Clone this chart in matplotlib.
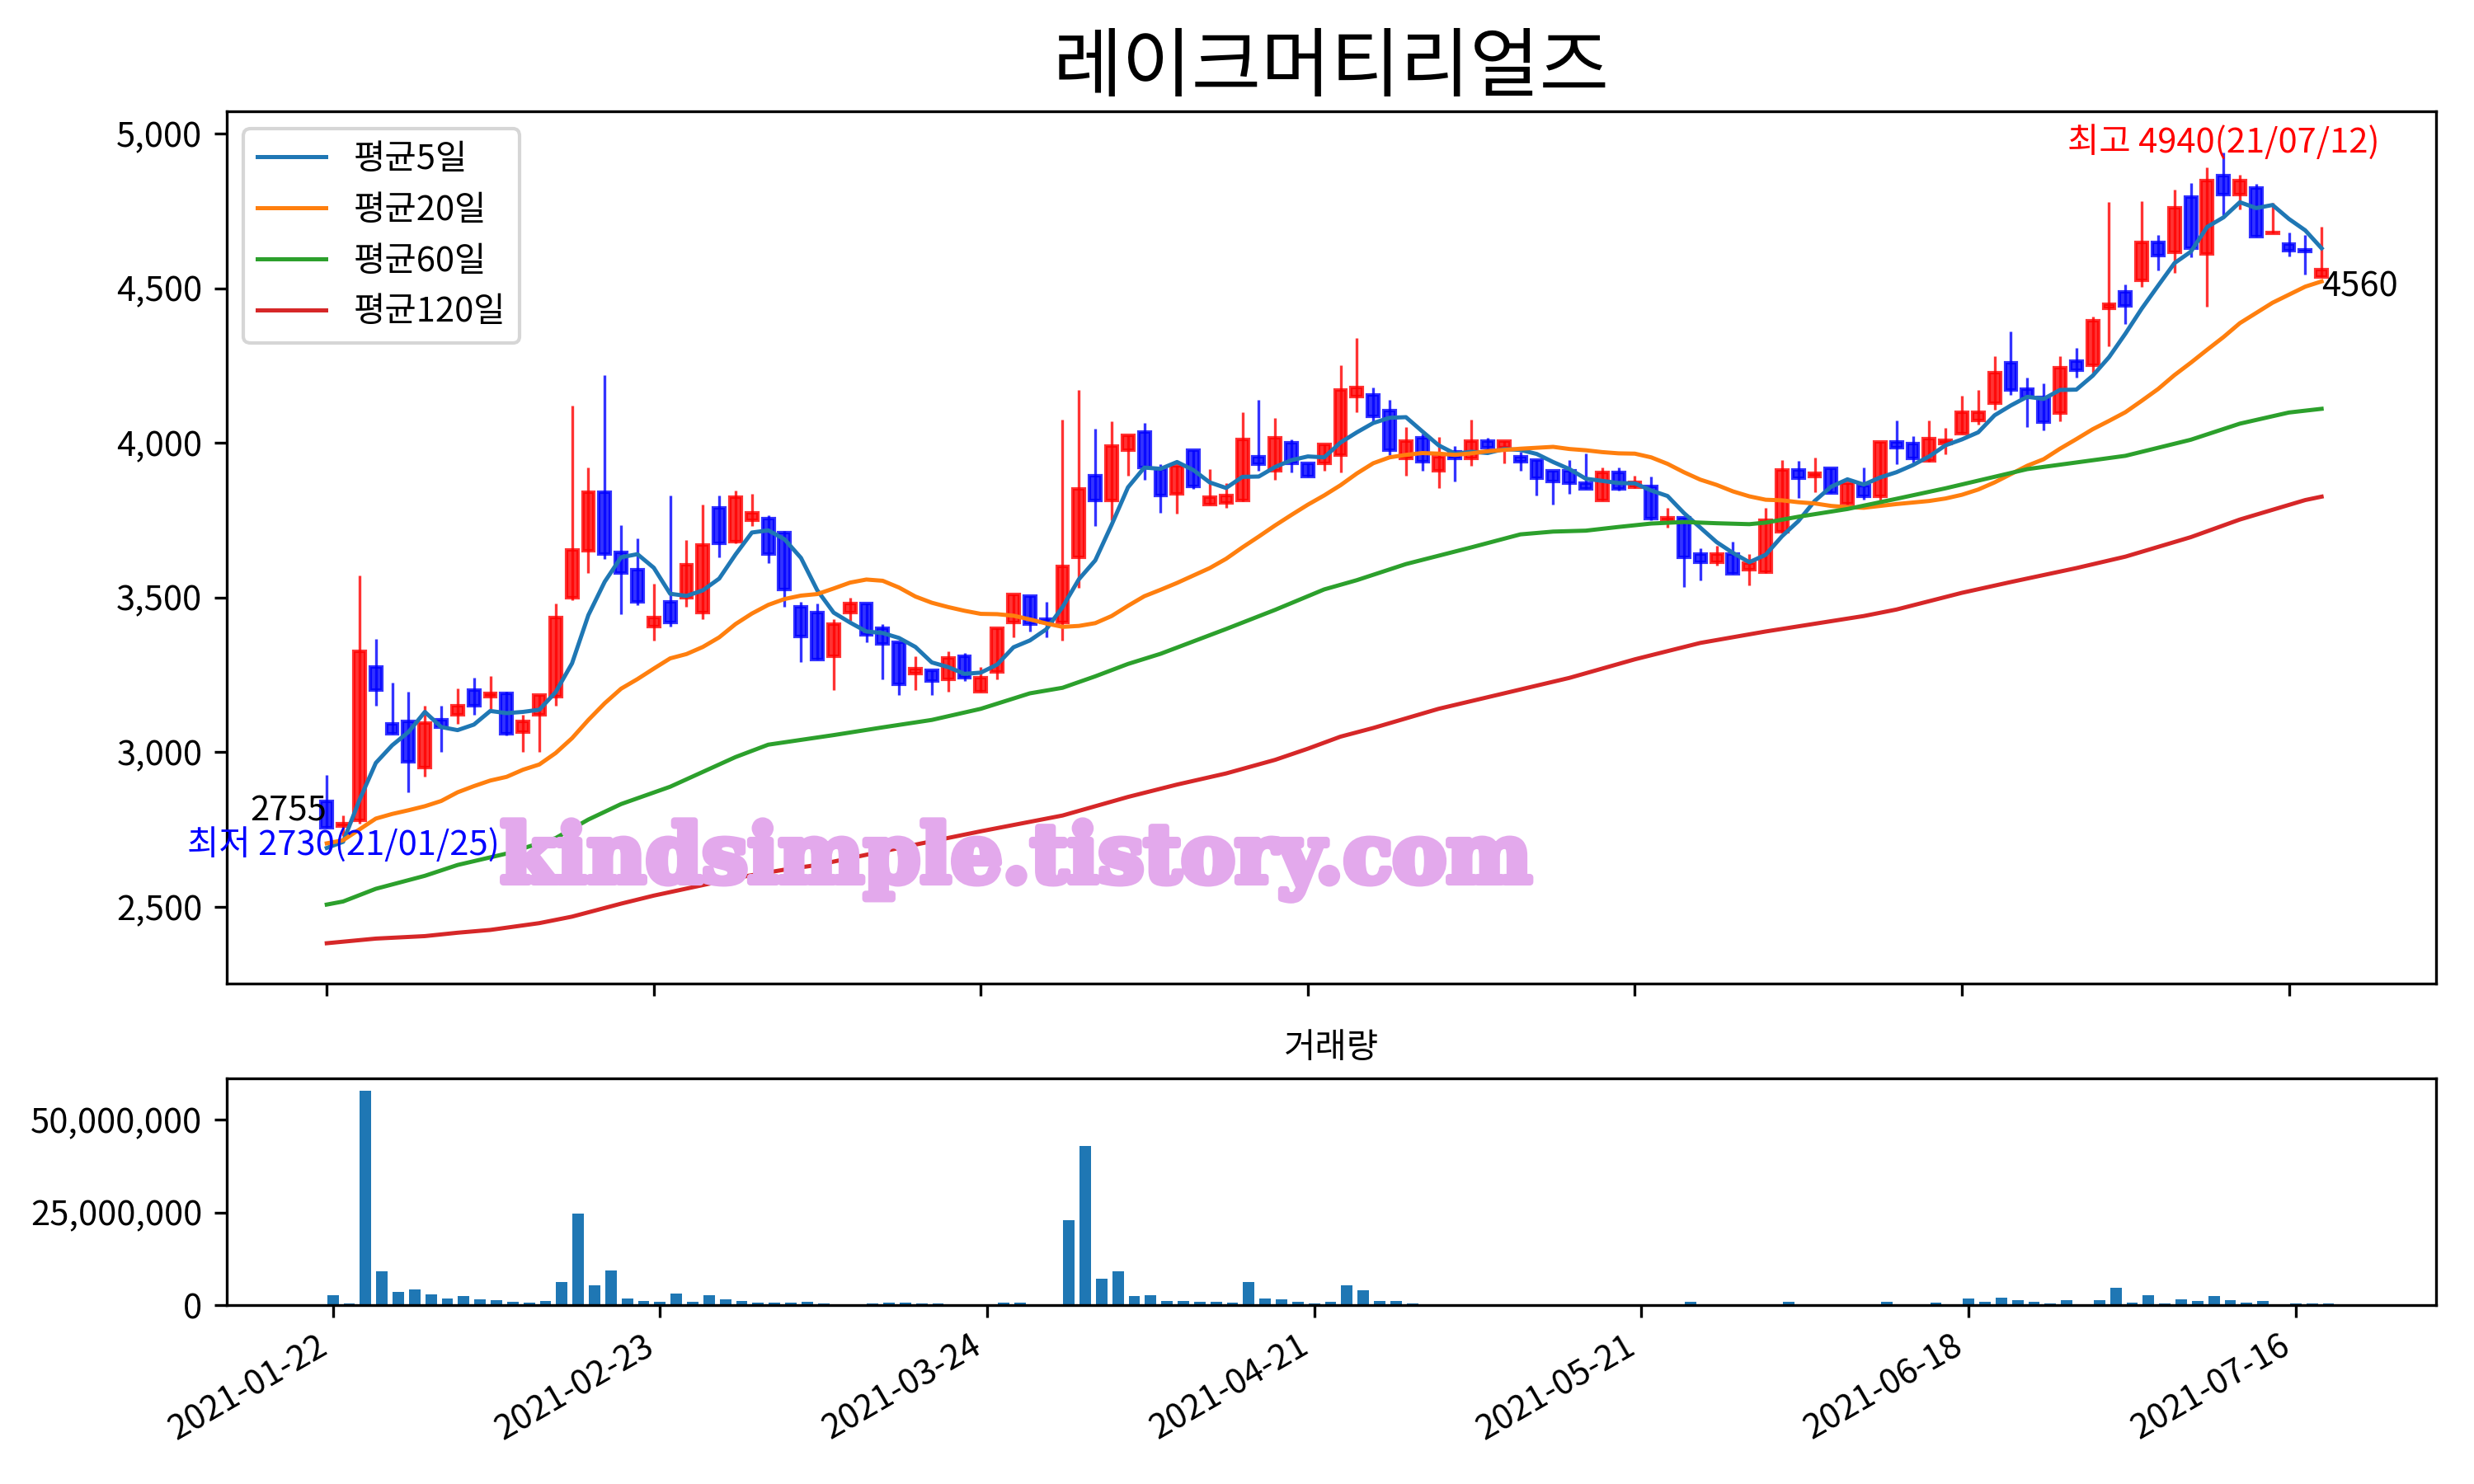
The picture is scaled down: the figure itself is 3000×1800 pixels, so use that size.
import numpy as np
import matplotlib
matplotlib.use("Agg")
import matplotlib.pyplot as plt
import matplotlib.patheffects as pe
from matplotlib.ticker import FuncFormatter

plt.rcParams['font.family'] = ['Noto Sans CJK KR', 'DejaVu Sans']
plt.rcParams['axes.unicode_minus'] = False

# candles (index 0 = 2021-01-22)
opens = [2840, 2760, 2780, 3275, 3090, 3100, 2950, 3105, 3120, 3200,
         3180, 3190, 3065, 3120, 3180, 3500, 3650, 3840, 3645, 3590,
         3405, 3485, 3500, 3450, 3790, 3680, 3750, 3755, 3710, 3470,
         3450, 3310, 3450, 3480, 3400, 3355, 3255, 3265, 3235, 3310,
         3195, 3260, 3420, 3505, 3430, 3420, 3630, 3895, 3815, 3975,
         4035, 3915, 3835, 3975, 3800, 3805, 3815, 3955, 3910, 4000,
         3935, 3935, 3960, 4150, 4155, 4105, 3950, 4015, 3910, 3970,
         3950, 4005, 3985, 3955, 3945, 3910, 3910, 3870, 3815, 3905,
         3857, 3860, 3750, 3757, 3640, 3615, 3640, 3590, 3582, 3712,
         3912, 3890, 3917, 3804, 3863, 3828, 4004, 3997, 3942, 3998,
         4030, 4072, 4128, 4259, 4173, 4147, 4096, 4264, 4250, 4434,
         4488, 4526, 4647, 4615, 4794, 4610, 4864, 4804, 4825, 4677,
         4643, 4625, 4535]
highs = [2925, 2795, 3570, 3365, 3225, 3195, 3150, 3150, 3205, 3240,
         3245, 3195, 3120, 3185, 3480, 4120, 3920, 4220, 3735, 3690,
         3545, 3830, 3685, 3800, 3830, 3845, 3835, 3765, 3715, 3485,
         3480, 3430, 3500, 3480, 3415, 3355, 3310, 3265, 3325, 3320,
         3275, 3400, 3510, 3505, 3485, 4075, 4170, 4045, 4070, 4025,
         4065, 3930, 3925, 3975, 3915, 3870, 4100, 4140, 4080, 4010,
         3935, 3995, 4250, 4340, 4180, 4140, 4050, 4030, 4020, 3990,
         4075, 4015, 4005, 3970, 3945, 3910, 3945, 3965, 3920, 3920,
         3895, 3890, 3790, 3757, 3660, 3668, 3680, 3640, 3790, 3945,
         3942, 3952, 3917, 3870, 3920, 4004, 4072, 4021, 4072, 4049,
         4152, 4170, 4281, 4359, 4210, 4191, 4281, 4306, 4409, 4780,
         4512, 4781, 4672, 4820, 4839, 4890, 4940, 4867, 4837, 4775,
         4680, 4672, 4700]
lows = [2755, 2730, 2770, 3150, 3060, 2870, 2920, 3000, 3090, 3120,
        3140, 3055, 3000, 3000, 3150, 3490, 3580, 3625, 3445, 3475,
        3360, 3405, 3470, 3430, 3630, 3675, 3730, 3610, 3470, 3290,
        3300, 3200, 3425, 3355, 3235, 3185, 3200, 3185, 3195, 3230,
        3195, 3235, 3370, 3390, 3370, 3360, 3530, 3730, 3750, 3895,
        3880, 3775, 3770, 3850, 3800, 3790, 3810, 3910, 3880, 3905,
        3890, 3910, 3905, 4100, 4070, 3960, 3895, 3910, 3855, 3875,
        3925, 3965, 3935, 3910, 3830, 3800, 3835, 3850, 3815, 3845,
        3855, 3750, 3725, 3535, 3555, 3603, 3577, 3538, 3580, 3710,
        3823, 3841, 3837, 3800, 3816, 3805, 3932, 3937, 3940, 3963,
        4030, 4058, 4107, 4156, 4051, 4041, 4070, 4212, 4227, 4311,
        4385, 4505, 4558, 4549, 4600, 4441, 4736, 4755, 4666, 4677,
        4602, 4543, 4535]
closes = [2755, 2770, 3325, 3200, 3060, 2970, 3095, 3080, 3150, 3150,
          3190, 3060, 3100, 3185, 3435, 3655, 3840, 3640, 3580, 3485,
          3435, 3420, 3605, 3670, 3675, 3825, 3775, 3640, 3525, 3375,
          3300, 3415, 3480, 3380, 3350, 3220, 3270, 3230, 3305, 3240,
          3240, 3400, 3510, 3415, 3420, 3600, 3850, 3815, 3990, 4025,
          3920, 3830, 3925, 3860, 3825, 3830, 4010, 3930, 4015, 3935,
          3890, 3995, 4170, 4180, 4085, 3975, 4005, 3940, 3955, 3950,
          4005, 3985, 4005, 3940, 3885, 3875, 3870, 3850, 3905, 3850,
          3872, 3755, 3757, 3630, 3615, 3640, 3577, 3610, 3750, 3912,
          3886, 3903, 3837, 3870, 3828, 4004, 3985, 3951, 4013, 4007,
          4100, 4100, 4227, 4170, 4147, 4068, 4242, 4234, 4395, 4448,
          4444, 4649, 4605, 4761, 4629, 4848, 4804, 4848, 4666, 4680,
          4621, 4620, 4560]

# volume in millions of shares
volume_m = [2.59, 0.37, 57.9, 9.04, 3.48, 4.15, 2.81, 1.70, 2.37, 1.48,
            1.26, 0.81, 0.59, 1.04, 6.15, 24.8, 5.26, 9.26, 1.70, 1.04,
            0.81, 3.04, 0.81, 2.59, 1.48, 1.04, 0.59, 0.59, 0.59, 0.81,
            0.37, 0.08, 0.15, 0.37, 0.59, 0.59, 0.37, 0.37, 0.15, 0.08,
            0.08, 0.59, 0.59, 0.15, 0.15, 23.0, 43.0, 7.04, 9.04, 2.37,
            2.59, 1.04, 1.04, 0.81, 0.81, 0.59, 6.15, 1.70, 1.48, 0.81,
            0.37, 0.81, 5.26, 3.93, 1.04, 1.04, 0.37, 0.15, 0.15, 0.15,
            0.15, 0.15, 0.15, 0.08, 0.15, 0.15, 0.15, 0.08, 0.08, 0.08,
            0.08, 0.15, 0.15, 0.81, 0.15, 0.08, 0.15, 0.08, 0.15, 0.81,
            0.15, 0.08, 0.08, 0.08, 0.08, 0.81, 0.15, 0.08, 0.59, 0.15,
            1.70, 0.81, 1.93, 1.26, 0.81, 0.37, 1.26, 0.15, 1.26, 4.59,
            0.59, 2.59, 0.37, 1.48, 1.04, 2.37, 1.26, 0.59, 1.04, 0.15,
            0.37, 0.37, 0.37]

# moving averages
ma5 = [2690, 2710, 2845, 2965, 3022, 3065, 3130, 3081, 3071, 3089,
       3133, 3126, 3130, 3137, 3194, 3287, 3443, 3551, 3630, 3640,
       3596, 3512, 3505, 3523, 3561, 3639, 3710, 3717, 3688, 3628,
       3523, 3451, 3419, 3390, 3385, 3369, 3340, 3290, 3275, 3253,
       3257, 3283, 3339, 3361, 3397, 3469, 3559, 3620, 3735, 3856,
       3920, 3916, 3938, 3912, 3872, 3854, 3890, 3891, 3922, 3944,
       3956, 3953, 4001, 4034, 4064, 4081, 4083, 4037, 3992, 3965,
       3971, 3967, 3980, 3977, 3964, 3938, 3915, 3884, 3877, 3870,
       3869, 3846, 3828, 3773, 3726, 3679, 3644, 3614, 3638, 3698,
       3747, 3812, 3858, 3882, 3865, 3888, 3905, 3928, 3956, 3992,
       4011, 4034, 4089, 4121, 4149, 4142, 4171, 4172, 4217, 4277,
       4353, 4434, 4508, 4581, 4618, 4698, 4729, 4778, 4759, 4769,
       4724, 4687, 4629]
ma20 = [2705, 2715, 2750, 2785, 2800, 2812, 2825, 2842, 2870, 2890,
        2908, 2920, 2943, 2960, 2997, 3045, 3104, 3158, 3205, 3236,
        3270, 3303, 3317, 3340, 3371, 3414, 3448, 3476, 3495, 3506,
        3511, 3529, 3548, 3558, 3554, 3532, 3503, 3483, 3469, 3457,
        3447, 3446, 3441, 3429, 3416, 3405, 3408, 3417, 3440, 3473,
        3504, 3525, 3547, 3571, 3595, 3625, 3662, 3697, 3733, 3767,
        3800, 3830, 3863, 3901, 3934, 3953, 3961, 3967, 3965, 3961,
        3966, 3973, 3977, 3981, 3984, 3987, 3980, 3976, 3970, 3966,
        3965, 3953, 3932, 3905, 3881, 3864, 3843, 3827, 3816, 3814,
        3808, 3804, 3796, 3792, 3790, 3796, 3802, 3807, 3812, 3820,
        3832, 3849, 3872, 3899, 3926, 3947, 3981, 4012, 4044, 4071,
        4099, 4136, 4174, 4219, 4259, 4301, 4342, 4387, 4420, 4453,
        4479, 4505, 4522]
ma60_idx = [0, 1, 3, 6, 8, 11, 14, 16, 18, 21, 25, 27, 31, 34, 37, 40, 43, 45,
            47, 49, 51, 55, 58, 61, 63, 66, 70, 73, 75, 77, 79, 81, 83, 85,
            87, 88, 90, 93, 96, 99, 104, 110, 114, 117, 120, 122]
ma60 = [2507, 2517, 2558, 2600, 2635, 2672, 2722, 2782, 2832, 2888, 2984, 3024,
        3055, 3080, 3104, 3140, 3190, 3208, 3245, 3285, 3318, 3398, 3460, 3526,
        3556, 3608, 3662, 3704, 3713, 3716, 3728, 3739, 3744, 3740, 3737, 3742,
        3761, 3786, 3819, 3853, 3915, 3958, 4010, 4062, 4098, 4110]
ma120_idx = [0, 3, 6, 8, 10, 13, 15, 18, 20, 23, 25, 28, 30, 35, 40, 45, 49,
             52, 55, 58, 60, 62, 64, 68, 72, 76, 80, 84, 88, 94, 96, 100, 103,
             107, 110, 114, 117, 121, 122]
ma120 = [2382, 2397, 2405, 2416, 2425, 2447, 2468, 2510, 2536, 2570, 2593,
         2620, 2635, 2690, 2744, 2795, 2855, 2895, 2931, 2975, 3011, 3050,
         3078, 3140, 3190, 3240, 3300, 3353, 3390, 3440, 3461, 3515, 3550,
         3595, 3632, 3695, 3752, 3815, 3826]

tick_pos = [0, 20, 40, 60, 80, 100, 120]
tick_labels = ['2021-01-22', '2021-02-23', '2021-03-24', '2021-04-21',
               '2021-05-21', '2021-06-18', '2021-07-16']

x = np.arange(len(closes))
o = np.array(opens)
c = np.array(closes)
up = c >= o
col = np.where(up, 'red', 'blue')

fig = plt.figure(figsize=(10, 6), dpi=300)
ax = fig.add_axes([0.0915, 0.3371, 0.8933, 0.5877])
ax2 = fig.add_axes([0.0915, 0.1205, 0.8933, 0.1527])

# candles
ax.vlines(x, lows, highs, colors=col, linewidth=0.8, alpha=0.8)
ax.bar(x, np.abs(c - o), bottom=np.minimum(o, c), width=0.7, color=col,
       edgecolor=col, linewidth=1, alpha=0.8)

ax.plot(x, ma5, color='tab:blue', lw=1.2, label='평균5일')
ax.plot(x, ma20, color='tab:orange', lw=1.2, label='평균20일')
ax.plot(ma60_idx, ma60, color='tab:green', lw=1.2, label='평균60일')
ax.plot(ma120_idx, ma120, color='tab:red', lw=1.2, label='평균120일')

hi = int(np.argmax(highs))
lo = int(np.argmin(lows))
ax.text(hi, highs[hi], '최고 %d(21/07/12)' % highs[hi], color='red',
        ha='center', va='baseline', fontsize=10)
# label sits a little under the low
ax.text(lo, lows[lo] - 30, '최저 %d(21/01/25)' % lows[lo], color='blue',
        ha='center', va='center', fontsize=10)
ax.text(x[0], closes[0], str(closes[0]), ha='right', va='bottom', fontsize=10)
ax.text(x[-1], closes[-1], str(closes[-1]), ha='left', va='top', fontsize=10)

ax.set_xlim(-6.14, 129.02)
ax.set_ylim(2251, 5071)
ax.set_xticks(tick_pos)
ax.set_xticklabels([])
ax.yaxis.set_major_formatter(FuncFormatter(lambda v, p: '{:,.0f}'.format(v)))
ax.set_title('레이크머티리얼즈', fontsize=22)
ax.legend(loc='upper left')

# volume
ax2.bar(x, np.array(volume_m) * 1e6, width=0.7, color='tab:blue')
ax2.set_xlim(-6.51, 128.6)
ax2.set_ylim(0, 61.1e6)
ax2.set_yticks([0, 25e6, 50e6])
ax2.yaxis.set_major_formatter(FuncFormatter(lambda v, p: '{:,.0f}'.format(v)))
ax2.set_xticks(tick_pos)
ax2.set_xticklabels(tick_labels, rotation=30, ha='right')
ax2.set_title('거래량', fontsize=10)

wm = fig.text(0.4107, 0.4056, 'kindsimple.tistory.com', fontsize=23.5,
              family='DejaVu Serif', weight='bold', color='#E3A9EC',
              ha='center', va='baseline', zorder=10)
wm.set_path_effects([pe.withStroke(linewidth=2, foreground='#E3A9EC')])

fig.savefig('out.png', dpi=300)
